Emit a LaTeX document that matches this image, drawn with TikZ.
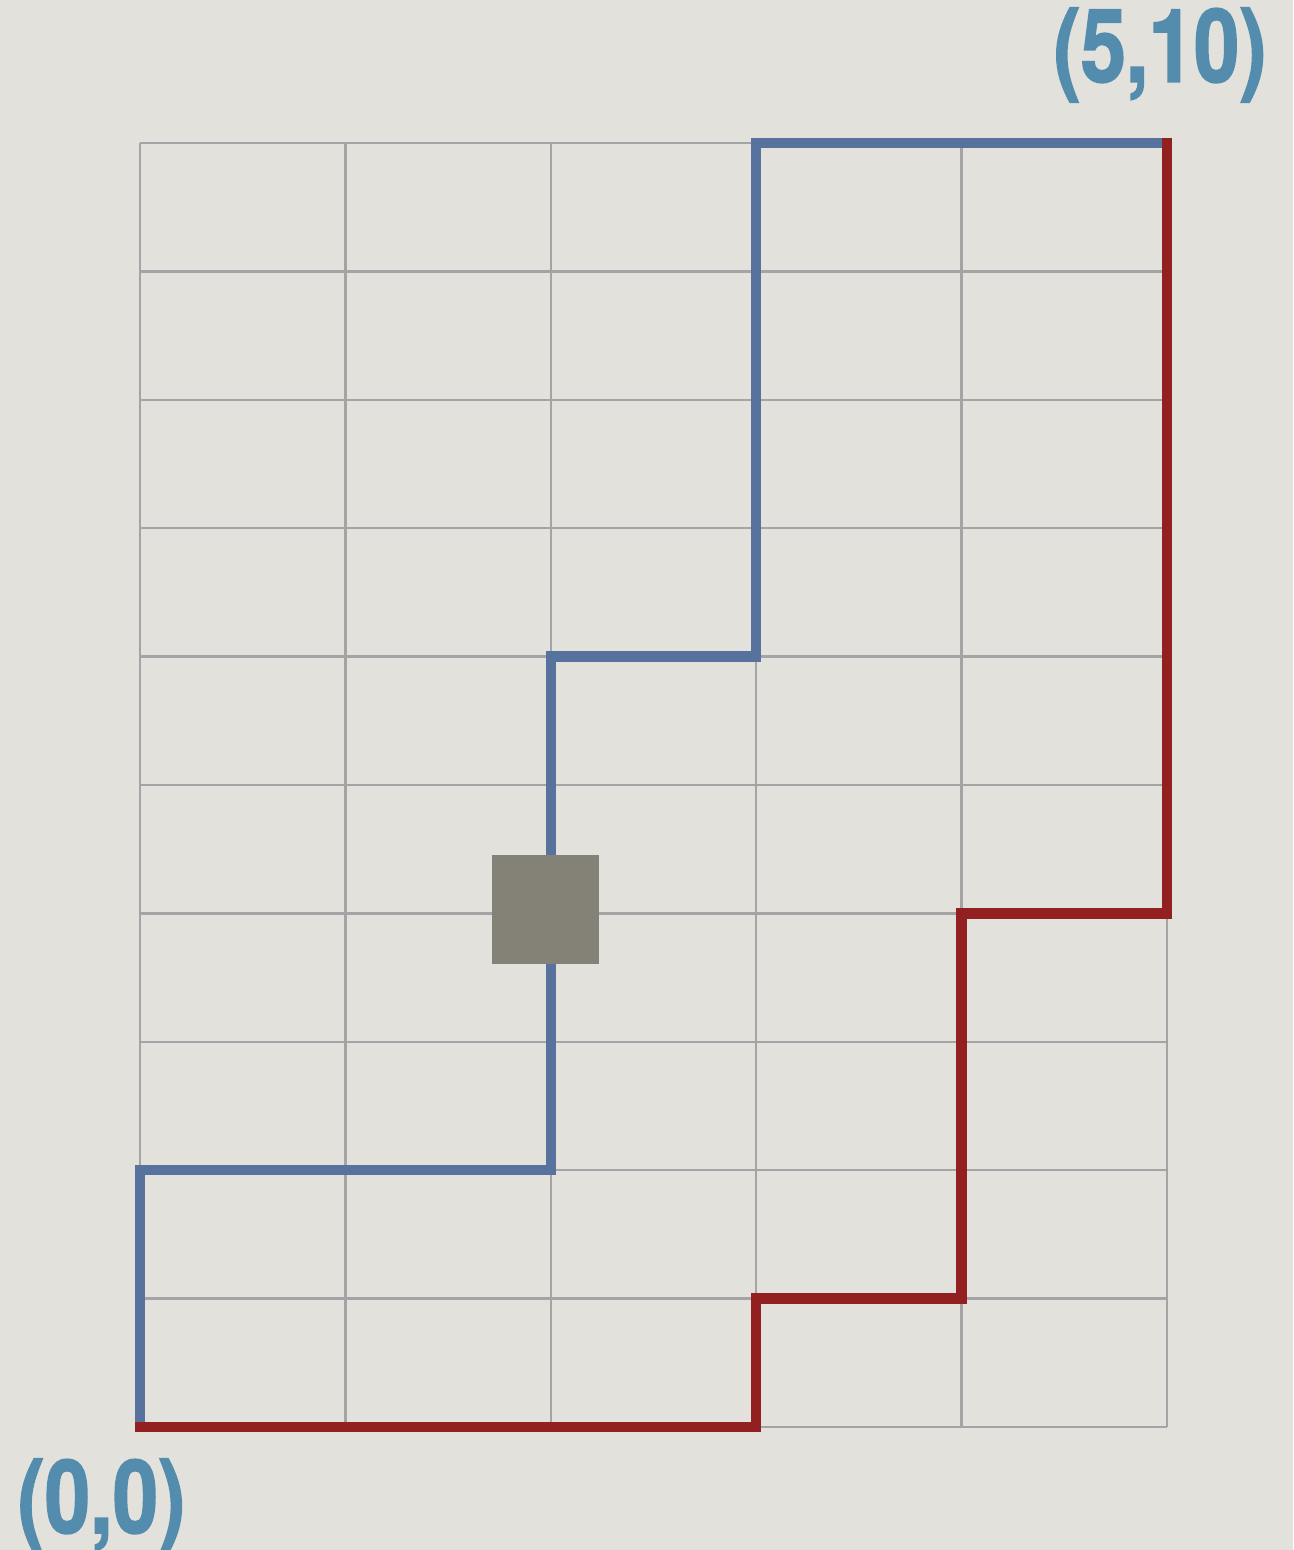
\documentclass[tikz,border=0pt]{standalone}
\usepackage{fontspec}
\setmainfont{TeX Gyre Heros}
\newfontfamily\labelfont[FakeStretch=0.8,FakeBold=1.5]{TeX Gyre Heros}
\usetikzlibrary{positioning}
\definecolor{paper}{RGB}{226,225,219}
\definecolor{gridgray}{RGB}{164,164,166}
\definecolor{pathblue}{RGB}{88,114,158}
\definecolor{pathred}{RGB}{146,32,32}
\definecolor{labelblue}{RGB}{84,140,174}
\definecolor{blockgray}{RGB}{132,130,118}

\begin{document}
\begin{tikzpicture}[
  x=2.054cm, y=1.284cm,
  gridline/.style={draw=gridgray,line width=0.7pt},
  route/.style={line width=3pt,line join=miter,line cap=rect},
  corner/.style={font=\labelfont\bfseries\fontsize{29}{29}\selectfont,
                 text=labelblue,inner sep=0pt,anchor=base},
  block/.style={fill=blockgray,minimum width=1.07cm,minimum height=1.09cm,
                inner sep=0pt}
]
%% -- paper and frame -----------------------------------------------------
\fill[paper] (-1.40cm,-1.23cm) rectangle (11.53cm,14.27cm);
\useasboundingbox (-1.40cm,-1.23cm) rectangle (11.53cm,14.27cm);

%% -- grid 5 x 10 -----------------------------------------------------------
\foreach \i in {0,...,5}
  \draw[gridline] (\i,0) -- (\i,10);
\foreach \j in {0,...,10}
  \draw[gridline] (0,\j) -- (5,\j);

%% -- end points ------------------------------------------------------------
\coordinate (start) at (0,0);
\coordinate (goal)  at (5,10);

%% -- upper route (blue) and lower route (red) ------------------------------
\draw[route,pathblue] (start) -- (0,2) -- (2,2) -- (2,6) -- (3,6) -- (3,10) -- (goal);
\draw[route,pathred]  (start) -- (3,0) -- (3,1) -- (4,1) -- (4,4) -- (5,4) -- (goal);

%% -- obstacle ---------------------------------------------------------------
\node[block,xshift=-0.05cm,yshift=0.04cm] (wall) at (2,4) {};

%% -- corner labels ---------------------------------------------------------
\node[corner] (goallbl)  at (10.20cm,13.45cm) {(5,10)};
\node[corner] (startlbl) at (-0.385cm,-1.06cm) {(0,0)};
\end{tikzpicture}
\end{document}
